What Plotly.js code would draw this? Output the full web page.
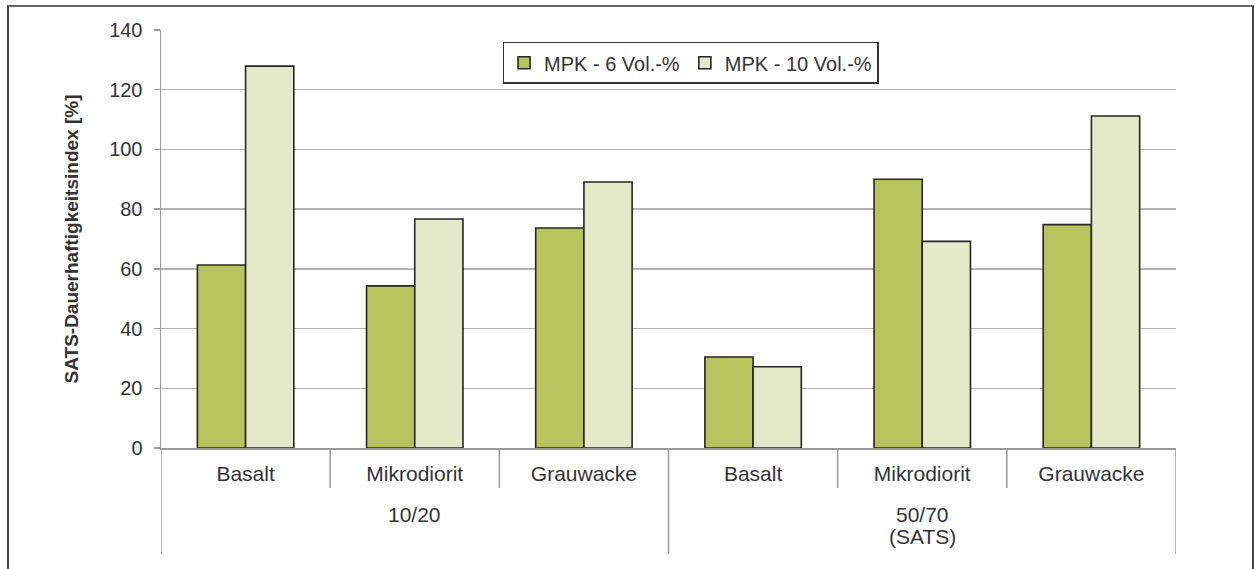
<!DOCTYPE html>
<html>
<head>
<meta charset="utf-8">
<script src="https://cdn.plot.ly/plotly-3.0.1.min.js"></script>
<style>
html,body{margin:0;padding:0;background:#fff;overflow:hidden;}
#wrap{position:relative;width:1255px;height:569px;}
#chart{width:1255px;height:569px;}
#frame{position:absolute;left:7px;top:5px;width:1247px;height:620px;border:2px solid #444;border-top-color:#666;box-sizing:border-box;pointer-events:none;}
</style>
</head>
<body>
<div id="wrap"><div id="chart"></div><div id="frame"></div></div>
<script>
// data
const rocks = ["Basalt","Mikrodiorit","Grauwacke","Basalt","Mikrodiorit","Grauwacke"];
const groupOf = [0,0,0,1,1,1];
const groupLabels = [["10/20"],["50/70","(SATS)"]];
const seriesNames = ["MPK - 6 Vol.-%","MPK - 10 Vol.-%"];
const mpk6 = [61.3, 54.3, 73.7, 30.5, 90.0, 74.8];
const mpk10 = [127.9, 76.7, 89.1, 27.2, 69.2, 111.2];
const yTicks = [0,20,40,60,80,100,120,140];

const font = "Liberation Sans, Arial, sans-serif";
const idx = rocks.map((_, i) => i);
const H = 569, mT = 30, mB = 121, plotH = H - mT - mB;
const px = v => -v / plotH; // pixels below axis -> paper y

const traces = [
  {type:"bar", name:seriesNames[0], x:idx, y:mpk6,
   marker:{color:"#b5c45c", line:{color:"#262626", width:1.6}}},
  {type:"bar", name:seriesNames[1], x:idx, y:mpk10,
   marker:{color:"#e3e9c9", line:{color:"#262626", width:1.6}}}
];

// dividers: short between categories, long at group boundaries
const shapes = [];
const divColor = "#9a9a9a";
for (let b = 0; b <= rocks.length; b++) {
  const isGroupEdge = b === 0 || b === rocks.length || groupOf[b] !== groupOf[b-1];
  shapes.push({type:"line", xref:"x", yref:"paper", x0:b-0.5, x1:b-0.5,
    y0:0, y1:px(isGroupEdge ? 106 : 40), line:{color:divColor, width:1.5}});
}
// group labels
const annotations = [];
groupLabels.forEach((lines, g) => {
  const members = idx.filter(i => groupOf[i] === g);
  const cx = (members[0] + members[members.length-1]) / 2;
  lines.forEach((t, k) => {
    annotations.push({xref:"x", yref:"paper", x:cx, y:px(514 - 448 + 22*k), yanchor:"middle",
      text:t, showarrow:false, font:{family:font, size:21, color:"#333"}});
  });
});

const layout = {
  width:1255, height:569,
  margin:{l:161, r:79, t:mT, b:mB},
  paper_bgcolor:"#fff", plot_bgcolor:"#fff",
  barmode:"group", bargap:0.43, bargroupgap:0,
  font:{family:font, size:20, color:"#333"},
  showlegend:true,
  legend:{orientation:"h", x:0.3365, y:0.972, xanchor:"left", yanchor:"top",
    bgcolor:"#fff", bordercolor:"#333", borderwidth:1.5,
    font:{family:font, size:20, color:"#333"}, itemwidth:30, traceorder:"normal"},
  xaxis:{type:"linear", range:[-0.5, rocks.length-0.5], tickvals:idx, ticktext:rocks,
    showline:true, linecolor:divColor, linewidth:1.5, ticks:"", ticklabelstandoff:6,
    tickfont:{family:font, size:21, color:"#333"}, showgrid:false, zeroline:false},
  yaxis:{range:[0,140], tickvals:yTicks, ticktext:yTicks.map(String), showline:true,
    linecolor:divColor, linewidth:1.5, ticks:"outside", ticklen:6, tickcolor:divColor, tickwidth:1.5,
    ticklabelstandoff:7,
    showgrid:true, gridcolor:"#b4b4b4", gridwidth:1.5, zeroline:false,
    tickfont:{family:font, size:20, color:"#333"},
    title:{text:"<b>SATS-Dauerhaftigkeitsindex [%]</b>", font:{family:font, size:19, color:"#333"}, standoff:25}},
  shapes:shapes,
  annotations:annotations
};
Plotly.newPlot("chart", traces, layout, {displayModeBar:false, staticPlot:true});
</script>
</body>
</html>
